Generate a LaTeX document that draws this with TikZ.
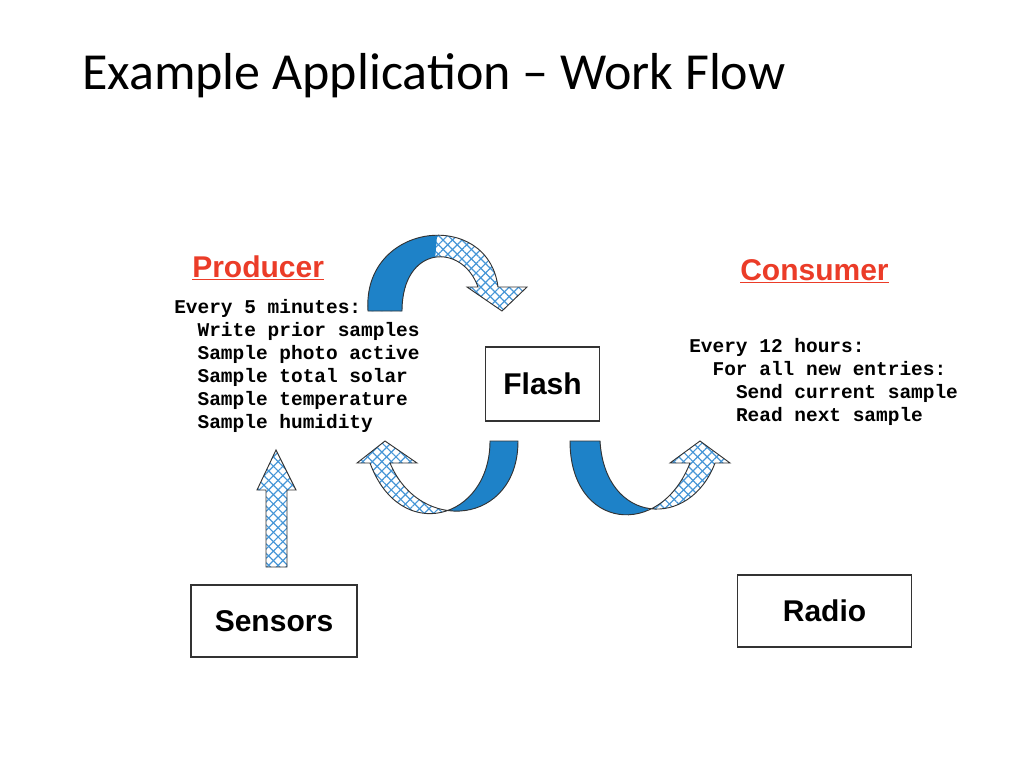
\documentclass[tikz,border=0pt]{standalone}
\usepackage{fontspec}
\setmainfont{Liberation Sans}
\newfontfamily\titlefont{Carlito}
\newfontfamily\codefont{Liberation Mono}
\usetikzlibrary{patterns.meta}
\definecolor{arrblue}{RGB}{30,130,200}
\definecolor{hatchblue}{RGB}{70,150,215}
\definecolor{prodred}{RGB}{235,60,40}
\begin{document}
\begin{tikzpicture}[x=0.75pt,y=-0.75pt,
  box/.style={draw=black!80,line width=0.8pt,fill=white,inner sep=0pt},
  code/.style={align=left,anchor=north west,inner sep=0pt,font=\codefont\bfseries\fontsize{14.6}{17.3}\selectfont},
  head/.style={font=\bfseries\fontsize{22.5}{26}\selectfont,text=prodred,inner sep=0pt},
  boxtext/.style={font=\bfseries\fontsize{22.5}{26}\selectfont},
  hatchA/.style={pattern={Lines[angle=45,distance=5pt,line width=0.9pt]},pattern color=hatchblue},
  hatchB/.style={pattern={Lines[angle=-45,distance=5pt,line width=0.9pt]},pattern color=hatchblue},
  outl/.style={draw=black!80,line width=0.7pt}]
\useasboundingbox (0,0) rectangle (1024,768);
\node[anchor=west,font=\titlefont\fontsize{39}{43}\selectfont,inner sep=0pt] (title) at (82,76) {Example Application – Work Flow};

\node[head,anchor=west] (prod) at (192,268) {\underline{Producer}};
\node[head,anchor=west] (cons) at (740,271) {\underline{Consumer}};

\node[code] (ptext) at (174,299) {Every 5 minutes:\\\ \ Write prior samples\\\ \ Sample photo active\\\ \ Sample total solar\\\ \ Sample temperature\\\ \ Sample humidity};
\node[code] (ctext) at (689,338) {Every 12 hours:\\\ \ For all new entries:\\\ \ \ \ Send current sample\\\ \ \ \ Read next sample};

\node[box,boxtext,minimum width=85pt,minimum height=55.5pt] (flash) at (542.5,384) {Flash};
\node[box,boxtext,minimum width=124.5pt,minimum height=54pt] (sensors) at (274,621) {Sensors};
\node[box,boxtext,minimum width=130pt,minimum height=54pt] (radio) at (824.5,611) {Radio};

% top arrow
\def\toparrow{(368,311) .. controls (362,222) and (488,208) .. (498,287) -- (527,287) -- (502,311) -- (467,287) -- (478,287) .. controls (462,242) and (402,245) .. (402,311) -- cycle}
\fill[white] \toparrow; \fill[hatchA] \toparrow; \fill[hatchB] \toparrow;
\begin{scope}\clip (300,200) -- (440,200) -- (430,320) -- (300,320) -- cycle; \fill[arrblue] \toparrow; \end{scope}
\draw[outl] \toparrow;

% bottom-left arrow
\def\blarrow{(518,441) .. controls (518,525) and (420,535) .. (390,463) -- (417,463) -- (385,441) -- (357,463) -- (370,463) .. controls (400,545) and (490,520) .. (490,441) -- cycle}
\fill[white] \blarrow; \fill[hatchA] \blarrow; \fill[hatchB] \blarrow;
\begin{scope}\clip (440,400) -- (560,400) -- (560,530) -- (450,530) -- cycle; \fill[arrblue] \blarrow; \end{scope}
\draw[outl] \blarrow;

% bottom-right arrow
\def\brarrow{(570,441) .. controls (570,530) and (660,540) .. (690,463) -- (670,463) -- (700,441) -- (730,463) -- (715,463) .. controls (690,530) and (605,525) .. (600,441) -- cycle}
\fill[white] \brarrow; \fill[hatchA] \brarrow; \fill[hatchB] \brarrow;
\begin{scope}\clip (540,400) -- (640,400) -- (650,530) -- (540,530) -- cycle; \fill[arrblue] \brarrow; \end{scope}
\draw[outl] \brarrow;

% sensors up arrow
\def\uparr{(266,567) -- (266,490) -- (257,490) -- (276,450) -- (296,490) -- (287,490) -- (287,567) -- cycle}
\fill[hatchA] \uparr; \fill[hatchB] \uparr;
\draw[outl] \uparr;
\end{tikzpicture}
\end{document}
